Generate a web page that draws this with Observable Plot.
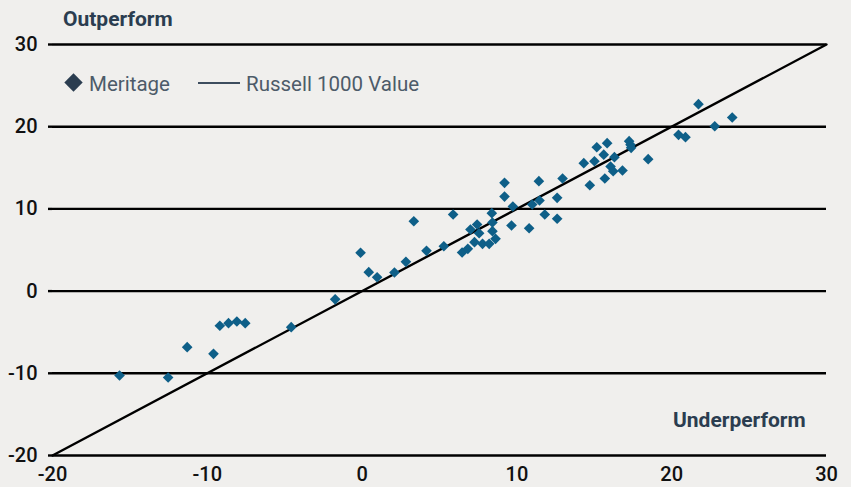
<!DOCTYPE html>
<html>
<head>
<meta charset="utf-8">
<script src="https://cdn.jsdelivr.net/npm/d3@7"></script>
<script src="https://cdn.jsdelivr.net/npm/@observablehq/plot@0.6"></script>
<style>
  html, body { margin: 0; padding: 0; background: #f0efed; }
  #wrap { position: relative; width: 851px; height: 487px; overflow: hidden; background: #f0efed; font-family: Roboto, "Noto Sans", sans-serif; }
  .lbl { position: absolute; font-weight: 700; color: #2b3d50; font-size: 21px; white-space: nowrap; line-height: 1; }
  .leg { position: absolute; font-size: 20.5px; color: #4d5b69; white-space: nowrap; line-height: 1; }
  .leg-diamond { position: absolute; width: 13px; height: 13px; background: #2b3d50; transform: rotate(45deg); }
  .leg-line { position: absolute; height: 2px; background: #3d4d5e; }
  svg text { font-family: Roboto, sans-serif; }
</style>
</head>
<body>
<div id="wrap"></div>
<script>
// Meritage points (Russell 1000 Value return on x, Meritage return on y)
const meritageX = [-15.67, -12.53, -11.3, -9.6, -9.19, -8.63, -8.09, -7.55, -4.58, -1.74,
  -0.1, 0.43, 0.97, 2.09, 2.83, 3.34, 4.16, 5.28, 5.88, 6.46,
  6.83, 7.0, 7.26, 7.43, 7.56, 7.78, 8.21, 8.38, 8.42, 8.42,
  8.62, 9.2, 9.2, 9.65, 9.74, 10.79, 10.99, 11.42, 11.46, 11.8,
  12.6, 12.6, 12.95, 14.32, 14.71, 15.01, 15.16, 15.61, 15.83, 15.68,
  16.05, 16.22, 16.3, 16.82, 17.25, 17.34, 17.38, 18.48, 20.44, 20.89,
  21.73, 22.78, 23.91];
const meritageY = [-10.27, -10.51, -6.82, -7.63, -4.22, -3.9, -3.7, -3.9, -4.39, -1.0,
  4.66, 2.3, 1.69, 2.26, 3.56, 8.5, 4.9, 5.46, 9.32, 4.7,
  5.14, 7.49, 5.95, 8.1, 7.04, 5.75, 5.75, 9.48, 8.35, 7.29,
  6.36, 13.17, 11.5, 7.98, 10.29, 7.65, 10.54, 13.37, 11.02, 9.32,
  11.35, 8.8, 13.7, 15.56, 12.88, 15.8, 17.5, 16.6, 18.0, 13.7,
  15.16, 14.59, 16.29, 14.67, 18.24, 17.8, 17.43, 16.05, 19.01, 18.73,
  22.74, 20.06, 21.12];
// Russell 1000 Value reference line (y = x)
const russellX = [-20, 30];
const russellY = [-20, 30];
const xTicks = [-20, -10, 0, 10, 20, 30];
const yTicks = [-20, -10, 0, 10, 20, 30];
const labelsText = { top: "Outperform", bottom: "Underperform" };
const legendText = ["Meritage", "Russell 1000 Value"];

const points = meritageX.map((x, i) => ({ x, y: meritageY[i] }));
const russell = russellX.map((x, i) => ({ x, y: russellY[i] }));
const fmt = d => String(d);

const chart = Plot.plot({
  width: 851,
  height: 487,
  marginLeft: 52,
  marginRight: 25,
  marginTop: 44,
  marginBottom: 32,
  style: { background: "transparent", overflow: "visible" },
  x: { domain: [-20, 30] },
  y: { domain: [-20, 30] },
  marks: [
    Plot.gridY(yTicks, { stroke: "#000", strokeOpacity: 1, strokeWidth: 2.4 }),
    Plot.axisY(yTicks, { tickSize: 4, tickPadding: 11, stroke: "#000", strokeWidth: 2.4, fontSize: 20, fontWeight: 500, fill: "#111", label: null, tickFormat: fmt }),
    Plot.axisX(xTicks, { tickSize: 0, tickPadding: 11, fontSize: 20, fontWeight: 500, fill: "#111", label: null, tickFormat: fmt }),
    Plot.line(russell, { x: "x", y: "y", stroke: "#000", strokeWidth: 2.4 }),
    Plot.dot(points, { x: "x", y: "y", symbol: "diamond2", r: 4.8, fill: "#0e5f88", stroke: "none" })
  ]
});
const wrap = document.getElementById("wrap");
chart.style.position = "absolute";
chart.style.left = "0px";
chart.style.top = "0px";
wrap.appendChild(chart);

function addDiv(cls, css, text) {
  const d = document.createElement("div");
  d.className = cls;
  Object.assign(d.style, css);
  if (text) d.textContent = text;
  wrap.appendChild(d);
  return d;
}
addDiv("lbl", { left: "63px", top: "9px" }, labelsText.top);
addDiv("lbl", { left: "673px", top: "410px" }, labelsText.bottom);
addDiv("leg-diamond", { left: "67px", top: "75.5px" });
addDiv("leg", { left: "89px", top: "74px" }, legendText[0]);
addDiv("leg-line", { left: "198px", top: "82px", width: "42px" });
addDiv("leg", { left: "246px", top: "74px" }, legendText[1]);
</script>
</body>
</html>
